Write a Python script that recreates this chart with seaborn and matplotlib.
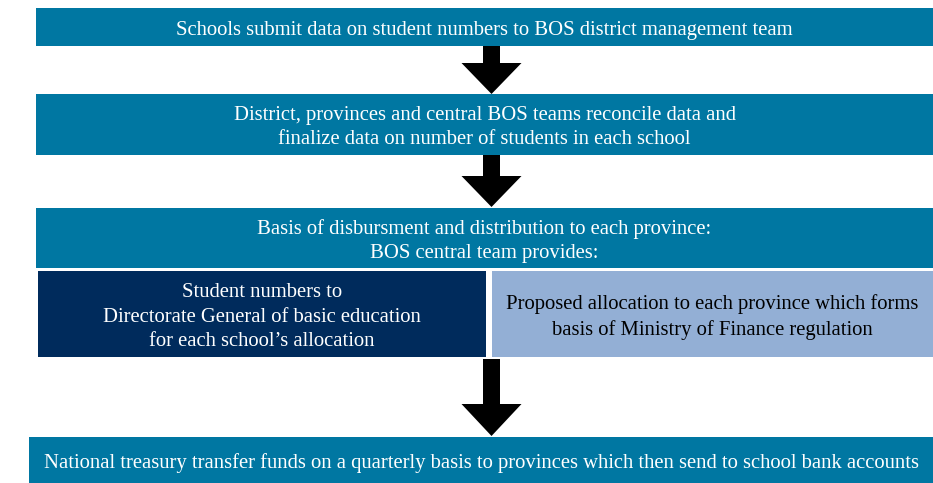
import matplotlib.pyplot as plt
import seaborn as sns
from matplotlib.patches import Rectangle, Polygon

# ── Flow content ──────────────────────────────────────────────────────────────
step_texts = [
    "Schools submit data on student numbers to BOS district management team",
    "District, provinces and central BOS teams reconcile data and\n"
    "finalize data on number of students in each school",
    "Basis of disbursment and distribution to each province:\n"
    "BOS central team provides:",
    "National treasury transfer funds on a quarterly basis to provinces "
    "which then send to school bank accounts",
]
split_texts = [
    "Student numbers to\nDirectorate General of basic education\n"
    "for each school\u2019s allocation",
    "Proposed allocation to each province which forms\n"
    "basis of Ministry of Finance regulation",
]

# ── Layout (pixel space, y downwards) ─────────────────────────────────────────
W, H = 933, 483
TEAL, NAVY, LIGHT = "#0077a2", "#002b5c", "#93afd5"

step_boxes = [(36, 8, 933, 46), (36, 94, 933, 155),
              (36, 208, 933, 268), (29, 437, 933, 483)]
split_boxes = [(38, 271, 486, 357), (492, 271, 933, 357)]
split_style = [(NAVY, "white"), (LIGHT, "black")]
arrows = [(46, 63, 94), (155, 176, 207), (359, 404, 436)]   # top, neck, tip
ARROW_X, SHAFT_W, HEAD_W = 491.5, 8.5, 30

sns.set_theme(style="white")
plt.rcParams["font.family"] = ["Liberation Serif", "DejaVu Serif"]

fig = plt.figure(figsize=(W / 100, H / 100), dpi=100)
ax = fig.add_axes([0, 0, 1, 1])
ax.set_xlim(0, W)
ax.set_ylim(H, 0)
ax.axis("off")


def draw_box(box, text, face, color, size=14.9, lh=1.42):
    x0, y0, x1, y1 = box
    ax.add_patch(Rectangle((x0, y0), x1 - x0, y1 - y0, facecolor=face,
                           edgecolor="none"))
    ax.text((x0 + x1) / 2, (y0 + y1) / 2 + 3, text, color=color,
            fontsize=size, ha="center", va="center", linespacing=lh)


for box, text in zip(step_boxes, step_texts):
    draw_box(box, text, TEAL, "white")

for box, text, (face, color) in zip(split_boxes, split_texts, split_style):
    draw_box(box, text, face, color)

for top, neck, tip in arrows:
    ax.add_patch(Polygon([
        (ARROW_X - SHAFT_W, top), (ARROW_X + SHAFT_W, top),
        (ARROW_X + SHAFT_W, neck), (ARROW_X + HEAD_W, neck),
        (ARROW_X, tip), (ARROW_X - HEAD_W, neck),
        (ARROW_X - SHAFT_W, neck)], closed=True, facecolor="black",
        edgecolor="none"))

fig.savefig("out.png", dpi=100)
